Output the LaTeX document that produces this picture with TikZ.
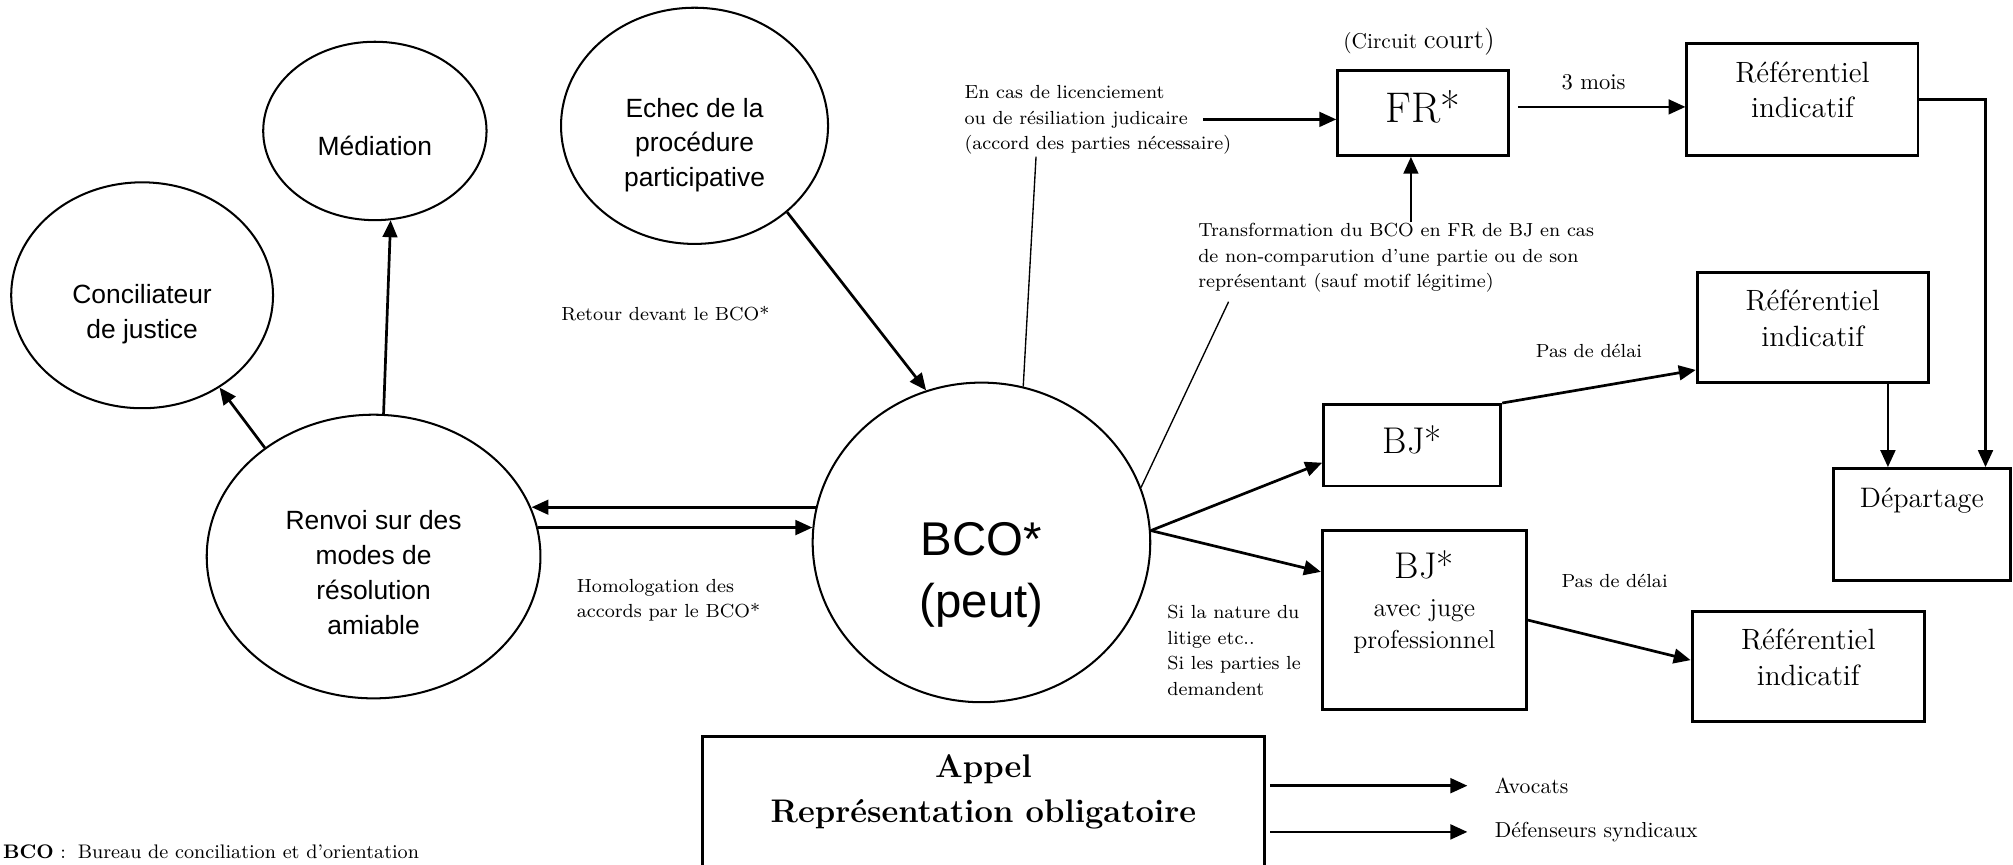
\documentclass[tikz,border=0pt]{standalone}
\usepackage{fontspec}
\newfontfamily\arialfont{Liberation Sans}
\usetikzlibrary{arrows.meta,shapes.geometric}
\begin{document}
\begin{tikzpicture}[x=0.02cm,y=-0.02cm,
  ell/.style={draw,ellipse,line width=0.9pt,inner sep=0pt},
  box/.style={draw,rectangle,line width=1.3pt,inner sep=0pt},
  arr/.style={-{Triangle[length=7.5pt,width=6.5pt]},line width=1.2pt},
  fin/.style={line width=0.6pt},
  etxt/.style={font=\arialfont\fontsize{11.7}{15.4}\selectfont,align=center,inner sep=0pt},
  btxt/.style={font=\fontsize{13}{15.9}\selectfont,align=center,inner sep=0pt},
  note/.style={font=\fontsize{8.4}{11.3}\selectfont,align=left,inner sep=0pt,anchor=west}]
\useasboundingbox (0,0) rectangle (1568,673);
\clip (0,0) rectangle (1568,673);
\node[ell,minimum width=3.48cm,minimum height=2.78cm] (mediation) at (292,102) {};
\node[etxt] (medtxt) at (292,114) {Médiation};
\node[ell,minimum width=4.08cm,minimum height=3.52cm] (concil) at (110.7,230) {};
\node[etxt] (conciltxt) at (110.7,245) {Conciliateur\\de justice};
\node[ell,minimum width=4.16cm,minimum height=3.68cm] (echec) at (541,98) {};
\node[etxt] (echectxt) at (541,113) {Echec de la\\procédure\\participative};
\node[ell,minimum width=5.2cm,minimum height=4.42cm] (renvoi) at (291,433.5) {};
\node[etxt] (renvoitxt) at (291,446) {Renvoi sur des\\modes de\\résolution\\amiable};
\node[ell,minimum width=5.26cm,minimum height=4.98cm] (bco) at (764.5,422.5) {};
\node[etxt,font=\arialfont\fontsize{21}{27.4}\selectfont] (bcotxt) at (764.5,448) {BCO*\\(peut)};
\node[box,minimum width=2.66cm,minimum height=1.32cm] (fr) at (1108.5,88) {};
\node[btxt,font=\fontsize{19}{22}\selectfont] (frtxt) at (1108.5,83) {FR*};
\node[box,minimum width=3.6cm,minimum height=1.74cm] (ref1) at (1404,77.5) {};
\node[btxt] (ref1txt) at (1404,70) {Référentiel\\indicatif};
\node[box,minimum width=3.6cm,minimum height=1.72cm] (ref2) at (1412,255) {};
\node[btxt] (ref2txt) at (1412,248) {Référentiel\\indicatif};
\node[box,minimum width=2.76cm,minimum height=1.27cm] (bj1) at (1100,346.8) {};
\node[btxt,font=\fontsize{16.5}{20}\selectfont] (bj1txt) at (1100,343) {BJ*};
\node[box,minimum width=3.18cm,minimum height=2.8cm] (bj2) at (1109.5,483) {};
\node[btxt,font=\fontsize{11.5}{14.2}\selectfont] (bj2txt) at (1109.5,469) {{\fontsize{16.5}{20}\selectfont BJ*}\\[2.5pt]avec juge\\professionnel};
\node[box,minimum width=3.62cm,minimum height=1.72cm] (ref3) at (1408.5,519) {};
\node[btxt] (ref3txt) at (1408.5,512) {Référentiel\\indicatif};
\node[box,minimum width=2.76cm,minimum height=1.74cm] (dep) at (1497,408.5) {};
\node[btxt,font=\fontsize{12.5}{15}\selectfont] (deptxt) at (1497,390) {Départage};
\node[box,minimum width=8.76cm,minimum height=2.64cm] (appel) at (766,640) {};
\node[btxt,font=\bfseries\fontsize{14.5}{19.8}\selectfont] (appeltxt) at (766,617) {Appel\\Représentation obligatoire};
\node[note] (encas) at (751,93.5) {En cas de licenciement\\ou de résiliation judicaire\\(accord des parties nécessaire)};
\node[note] (trans) at (933,201) {Transformation du BCO en FR de BJ en cas\\de non-comparution d’une partie ou de son\\représentant (sauf motif légitime)};
\node[note] (retour) at (437,244) {Retour devant le BCO*};
\node[note] (homolog) at (449,467.5) {Homologation des\\accords par le BCO*};
\node[note] (sila) at (909,506.5) {Si la nature du\\litige etc..\\Si les parties le\\demandent};
\node[note] (delai1) at (1196,273) {Pas de délai};
\node[note] (delai2) at (1216,452.5) {Pas de délai};
\node[note,font=\fontsize{10}{12}\selectfont] (mois) at (1216,64) {3 mois};
\node[note] (circuit) at (1046,32.5) {{\fontsize{9.5}{11}\selectfont (Circuit} {\fontsize{12}{14}\selectfont court)}};
\node[note,font=\fontsize{9.6}{12}\selectfont] (avocats) at (1164,612) {Avocats};
\node[note,font=\fontsize{9.6}{12}\selectfont] (defenseurs) at (1164,648) {Défenseurs syndicaux};
\node[note,font=\fontsize{8.7}{11}\selectfont,anchor=base west] (legende) at (2,669) {\textbf{BCO} :\hspace{0.6em}Bureau de conciliation et d’orientation};
\coordinate (encasout) at (937,93);
\coordinate (encasbot) at (807,122);
\coordinate (transtop) at (1099,173);
\coordinate (transbot) at (957,235);
\draw[arr] (renvoi.135) -- (concil.-50);
\draw[arr] (renvoi.86) -- (mediation.-80);
\draw[arr] (echec.-43) -- (bco.110);
\draw[arr] (bco.168) -- (renvoi.17 |- bco.168);
\draw[arr] (renvoi.10) -- (bco.175 |- renvoi.10);
\draw[arr] (bco.4) -- (bj1.191);
\draw[arr] (bco.4) -- (bj2.155);
\draw[arr] (bj1.north east) -- (ref2.200);
\draw[arr] (bj2.east) -- (ref3.177);
\draw[arr] (encasout) -- (encasout -| fr.west);
\draw[fin] (encasbot) -- (bco.75);
\draw[arr] (transtop) -- (transtop |- fr.south);
\draw[fin] (transbot) -- (bco.19);
\draw[arr,shorten <=3.5pt] (fr.4) -- (fr.4 -| ref1.west);
\draw[arr] (ref1.east) -| (dep.42);
\draw[arr] (ref2.-37) -- (ref2.-37 |- dep.north);
\draw[arr,shorten <=2pt] (appel.east |- avocats.west) -- ([xshift=-0.42cm]avocats.west);
\draw[arr,shorten <=2pt] (appel.east |- defenseurs.west) -- ([xshift=-0.42cm]defenseurs.west);
\end{tikzpicture}
\end{document}
